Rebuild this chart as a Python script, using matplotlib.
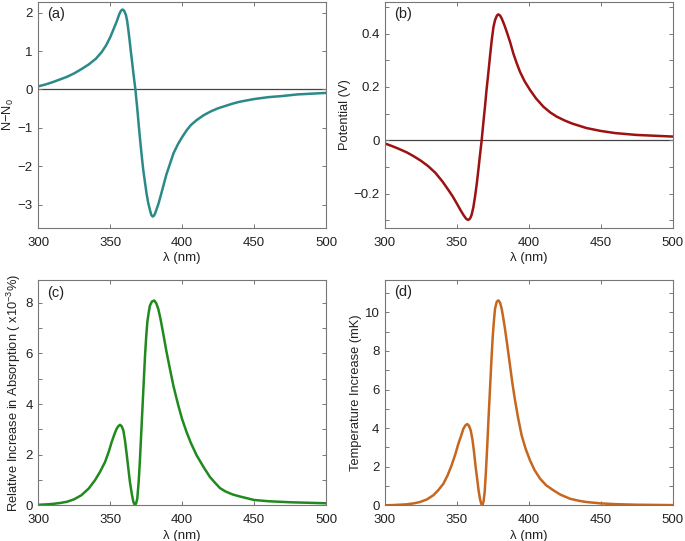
import matplotlib
matplotlib.use('Agg')
import matplotlib.pyplot as plt
from matplotlib.ticker import MultipleLocator, FuncFormatter

plt.rcParams['font.family'] = ['Liberation Sans', 'DejaVu Sans']
plt.rcParams['mathtext.default'] = 'regular'

# (a) refractive index change
lam_a = [300, 305, 310, 315, 320, 325, 330, 335, 340, 344, 347, 350, 352, 354.5, 356.4, 357.5,
         358.4, 359.2, 359.8, 360.9, 361.8, 362.6, 363.4, 364.2, 365.2, 366.1, 367.5, 368.9,
         369.8, 370.8, 371.9, 373, 375.3, 376.5, 377.7, 378.6, 379.5, 380.3, 381.1, 383.5,
         385, 387, 389, 391.6, 394, 397.3, 400, 403.2, 406, 410, 415, 420, 425, 430, 435,
         440, 445, 450, 460, 470, 480, 490, 500]
n_a = [0.08, 0.13, 0.19, 0.26, 0.33, 0.42, 0.53, 0.65, 0.80, 0.97, 1.14, 1.36, 1.54, 1.77, 1.97, 2.05,
       2.08, 2.07, 2.04, 1.94, 1.78, 1.55, 1.30, 1.03, 0.72, 0.42, 0.0, -0.54,
       -0.92, -1.32, -1.73, -2.11, -2.72, -2.97, -3.15, -3.27, -3.31, -3.29, -3.24, -2.98,
       -2.78, -2.50, -2.22, -1.93, -1.66, -1.41, -1.24, -1.06, -0.93, -0.80, -0.67, -0.57, -0.49, -0.43, -0.37,
       -0.32, -0.285, -0.25, -0.20, -0.17, -0.13, -0.11, -0.09]

# (b) potential
lam_b = [300, 305, 310, 315, 320, 325, 330, 335, 340, 344, 347, 350, 352.5, 354.5, 356.5, 357.9,
         359.2, 360.2, 361.4, 362.6, 363.8, 364.9, 366, 367.2, 368.3, 369.5, 370.6, 371.8,
         373, 374.2, 375.4, 376.5, 377.8, 378.8, 380, 381.1, 382.8, 384.6, 387, 389.2, 391.5,
         393.8, 397, 400.8, 405, 410.1, 415, 419.3, 425, 430, 440, 450, 460, 475, 500]
v_b = [-0.012, -0.022, -0.033, -0.045, -0.06, -0.077, -0.097, -0.122, -0.155, -0.186, -0.21, -0.238, -0.262, -0.28, -0.295, -0.299,
       -0.293, -0.28, -0.252, -0.211, -0.163, -0.111, -0.057, 0.0, 0.062, 0.126, 0.19, 0.251,
       0.315, 0.376, 0.425, 0.451, 0.468, 0.4725, 0.468, 0.4575, 0.435, 0.4075, 0.368, 0.326, 0.29,
       0.2575, 0.222, 0.189, 0.157, 0.126, 0.104, 0.089, 0.074, 0.063, 0.046, 0.035, 0.027, 0.02, 0.014]

# (c) relative absorption increase
lam_c = [300, 305, 310, 315, 320, 325, 330, 335, 339.4, 343, 346.4, 349, 351, 353, 354.5, 355.7,
         356.8, 358, 359.1, 360.3, 361.4, 362.6, 363.7, 365, 366.1, 367.2, 368, 368.8, 369.8,
         370.7, 371.6, 372.5, 373.4, 374.2, 375, 375.8, 376.7, 377.6, 379, 380.6, 382, 383.4,
         385, 386.9, 389, 391.5, 394, 397.3, 400, 403.1, 406, 410.1, 415, 419.3, 423, 426.3,
         430, 435, 440, 450, 460, 475, 500]
a_c = [0.02, 0.035, 0.055, 0.09, 0.14, 0.24, 0.40, 0.66, 0.99, 1.33, 1.71, 2.12, 2.50, 2.82, 3.03, 3.13,
       3.18, 3.12, 2.96, 2.55, 2.04, 1.45, 0.92, 0.45, 0.13, 0.0, 0.08, 0.26, 0.95,
       1.84, 2.9, 3.95, 5.0, 5.92, 6.65, 7.24, 7.6, 7.89, 8.05, 8.09, 7.98, 7.76,
       7.35, 6.77, 6.1, 5.39, 4.70, 3.95, 3.40, 2.89, 2.47, 1.97, 1.50, 1.12, 0.88, 0.68,
       0.55, 0.43, 0.35, 0.21, 0.16, 0.12, 0.08]

# (d) temperature increase
lam_d = [300, 305, 310, 315, 320, 324.3, 329, 333.6, 337, 340.6, 343.5, 346.3, 349, 351, 353, 354.5,
         356, 357.2, 358.4, 359.6, 360.8, 361.9, 363, 364.2, 365.1, 366, 366.9, 367.7, 368.5,
         369.3, 370.2, 371.1, 372, 373, 373.9, 374.8, 375.7, 376.5, 377.7, 378.8, 380, 381.1,
         382.2, 383.4, 385, 386.9, 388.6, 390.4, 392.6, 395, 397.8, 400.8, 404, 407.8, 412,
         417, 422, 428.6, 435, 440, 450, 460, 475, 500]
t_d = [0.0, 0.01, 0.03, 0.05, 0.10, 0.17, 0.30, 0.52, 0.78, 1.12, 1.55, 2.07, 2.67, 3.19, 3.62, 3.97,
       4.15, 4.21, 4.12, 3.88, 3.4, 2.76, 2.0, 1.29, 0.75, 0.34, 0.08, 0.0, 0.2,
       0.69, 1.8, 3.11, 4.55, 6.04, 7.4, 8.63, 9.55, 10.19, 10.55, 10.62, 10.5, 10.19,
       9.72, 9.15, 8.3, 7.25, 6.3, 5.44, 4.5, 3.62, 2.92, 2.33, 1.82, 1.38, 1.04,
       0.78, 0.55, 0.34, 0.23, 0.17, 0.1, 0.06, 0.03, 0.01]

fmt = FuncFormatter(lambda v, p: ('%g' % round(v, 6)).replace('-', '\u2212'))

fig = plt.figure(figsize=(6.85, 5.41), dpi=100)
W, H = 685, 541


def make_ax(left, top, right, bottom):
    return fig.add_axes([left / W, 1 - bottom / H, (right - left) / W, (bottom - top) / H])


panels = [
    (make_ax(38.3, 1.7, 326, 227.7), lam_a, n_a, '#2b8a88', 'N\u2212N$_0$', (-3.6, 2.285), 1, None, '(a)', True),
    (make_ax(385, 1.7, 672.7, 227.7), lam_b, v_b, '#9c1212', 'Potential (V)', (-0.328, 0.52), 0.2, 0.1, '(b)', True),
    (make_ax(38.3, 280, 326, 505.3), lam_c, a_c, '#208a1e', 'Relative Increase in Absorption ( x10$^{-3}$%)', (0, 8.9), 2, 1, '(c)', False),
    (make_ax(385, 279.5, 672.7, 505.3), lam_d, t_d, '#c6661f', 'Temperature Increase (mK)', (0, 11.7), 2, 1, '(d)', False),
]

for ax, x, y, col, ylab, ylim, major, minor, tag, zero in panels:
    if zero:
        ax.axhline(0, color='#444444', lw=0.9, zorder=1)
    ax.plot(x, y, color=col, lw=1.8, zorder=2)
    ax.set_xlim(300, 500)
    ax.set_ylim(*ylim)
    ax.xaxis.set_major_locator(MultipleLocator(50))
    ax.yaxis.set_major_locator(MultipleLocator(major))
    if minor:
        ax.yaxis.set_minor_locator(MultipleLocator(minor))
    ax.yaxis.set_major_formatter(fmt)
    ax.tick_params(which='both', direction='in', top=True, right=True, length=3,
                   width=0.7, color='#777777', labelsize=9.5, labelcolor='#222222')
    ax.tick_params(axis='x', pad=6.5)
    ax.tick_params(axis='y', pad=4)
    for s in ax.spines.values():
        s.set_color('#777777')
        s.set_linewidth(0.8)
    ax.set_xlabel('\u03bb (nm)', fontsize=9.5, color='#222222', labelpad=2.5)
    ax.set_ylabel(ylab, fontsize=9.3, color='#222222', labelpad=1 if tag == '(a)' else 2)
    ax.text(0.03, 0.975, tag, transform=ax.transAxes, ha='left', va='top', fontsize=10.5, color='#222222')

fig.savefig('out.png', dpi=100)
